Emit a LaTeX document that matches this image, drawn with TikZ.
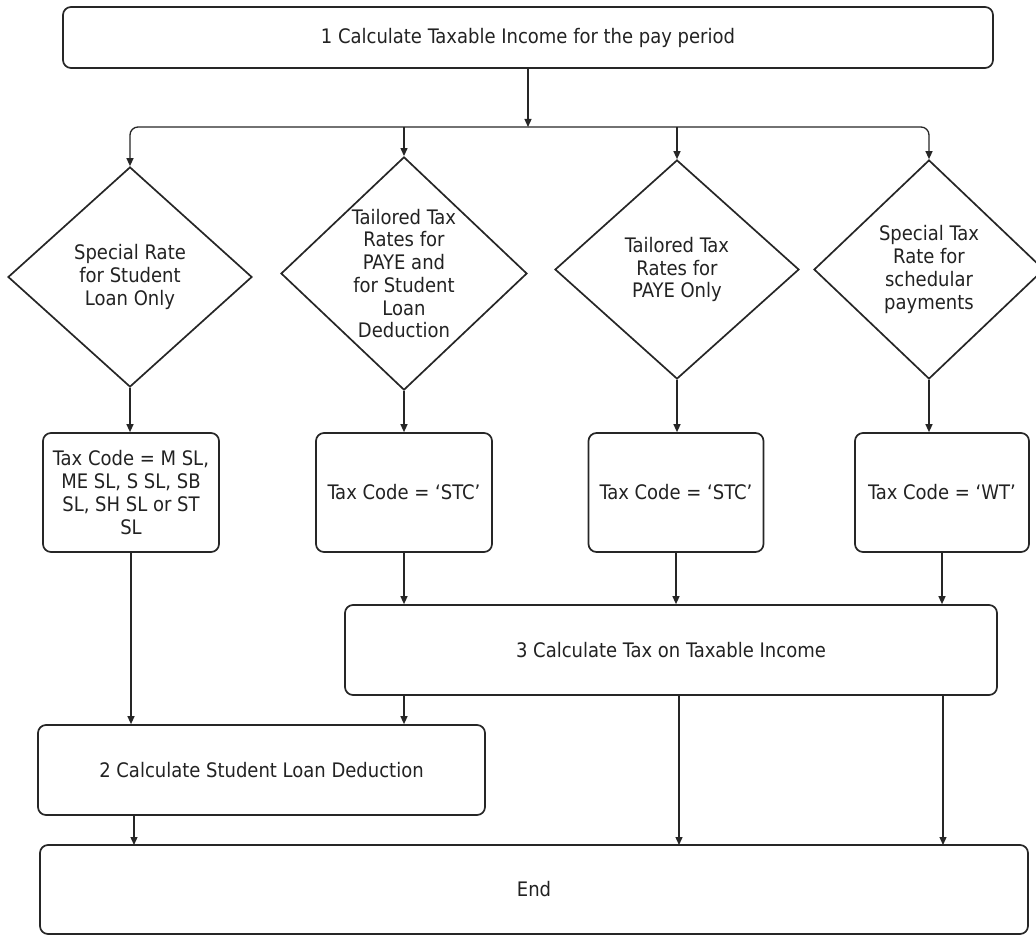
\documentclass[tikz,border=0pt]{standalone}
\usepackage{fontspec}
\setmainfont{DejaVu Sans Condensed}
\usetikzlibrary{shapes.geometric,arrows.meta}
\definecolor{ln}{HTML}{262626}
\definecolor{tx}{HTML}{222222}
\tikzset{
  base/.style={draw=ln, line width=1.7pt, text=tx, align=center, inner sep=0pt,
    font=\fontsize{20}{22.7}\selectfont},
  rbox/.style={base, rectangle, rounded corners=8pt},
  dec/.style={base, diamond},
  arr/.style={draw=ln, line width=1.3pt, -{Triangle[length=8pt,width=7pt]}},
}
\begin{document}
\begin{tikzpicture}[x=1pt,y=-1pt]
\useasboundingbox (0,0) rectangle (1036,936);
% boxes
\node[rbox, minimum width=930pt, minimum height=61pt] (top) at (528,37.5) {1 Calculate Taxable Income for the pay period};
\node[dec, minimum width=244pt, minimum height=220pt] (d1) at (130,277) {Special Rate\\for Student\\Loan Only};
\node[dec, minimum width=246pt, minimum height=227pt] (d2) at (404,273.5) {Tailored Tax\\Rates for\\PAYE and\\for Student\\Loan\\Deduction};
\node[dec, minimum width=244pt, minimum height=219pt] (d3) at (677,269.5) {Tailored Tax\\Rates for\\PAYE Only};
\node[dec, minimum width=230pt, minimum height=219pt] (d4) at (929,269.5) {Special Tax\\Rate for\\schedular\\payments};
\node[rbox, minimum width=176pt, minimum height=119pt] (b1) at (131,492.5) {Tax Code = M SL,\\ME SL, S SL, SB\\SL, SH SL or ST\\SL};
\node[rbox, minimum width=176pt, minimum height=119pt] (b2) at (404,492.5) {Tax Code = `STC'};
\node[rbox, minimum width=175pt, minimum height=119pt] (b3) at (676,492.5) {Tax Code = `STC'};
\node[rbox, minimum width=174pt, minimum height=119pt] (b4) at (942,492.5) {Tax Code = `WT'};
\node[rbox, minimum width=652pt, minimum height=90pt] (ct) at (671,650) {3 Calculate Tax on Taxable Income};
\node[rbox, minimum width=447pt, minimum height=90pt] (sl) at (261.5,770) {2 Calculate Student Loan Deduction};
\node[rbox, minimum width=988pt, minimum height=89pt] (end) at (534,889.5) {End};
% bus
\coordinate (bus) at (528,127);
\draw[arr] (top.south) -- (bus);
\draw[arr, rounded corners=8pt] (bus) -| (d1.north);
\draw[arr, rounded corners=8pt] (bus) -| (d4.north);
\draw[arr] (d2.north |- bus) -- (d2.north);
\draw[arr] (d3.north |- bus) -- (d3.north);
% diamonds to boxes
\draw[arr] (d1.south) -- (d1.south |- b1.north);
\draw[arr] (d2.south) -- (d2.south |- b2.north);
\draw[arr] (d3.south) -- (d3.south |- b3.north);
\draw[arr] (d4.south) -- (d4.south |- b4.north);
% boxes to calc
\draw[arr] (b1.south) -- (b1.south |- sl.north);
\draw[arr] (b2.south) -- (b2.south |- ct.north);
\draw[arr] (b3.south) -- (b3.south |- ct.north);
\draw[arr] (b4.south) -- (b4.south |- ct.north);
% calc to student loan / end
\draw[arr] (b2.south |- ct.south) -- (b2.south |- sl.north);
\draw[arr] (679,695) -- (679,845);
\draw[arr] (943,695) -- (943,845);
\draw[arr] (134,815) -- (134,845);
\end{tikzpicture}
\end{document}
